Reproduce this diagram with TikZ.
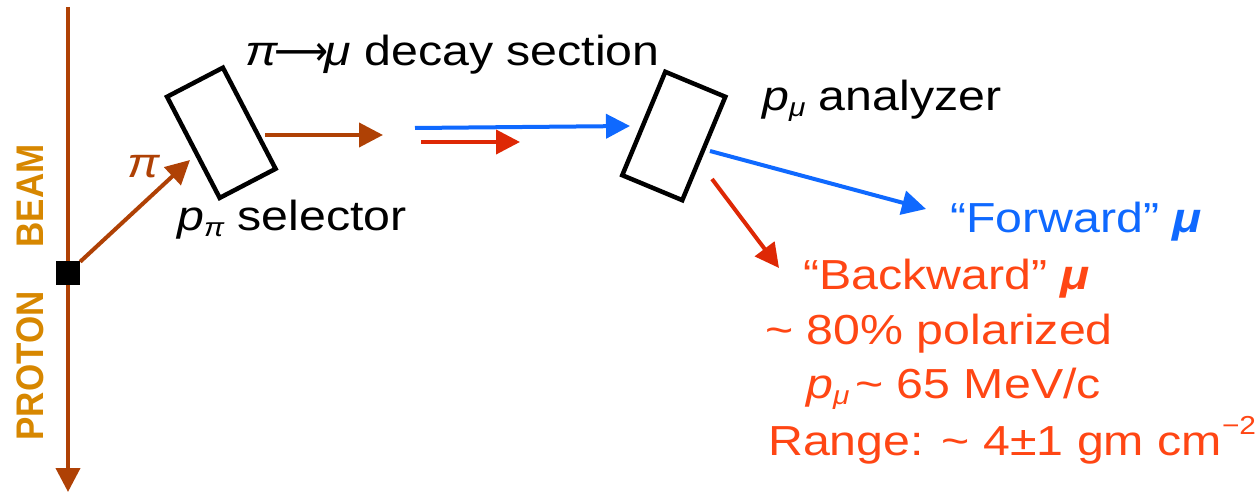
\documentclass[tikz,border=0pt]{standalone}
\usepackage{graphicx}
\usepackage{fontspec}
\setmainfont{Liberation Sans}
\newfontfamily\dvfont{DejaVu Sans}
\usetikzlibrary{arrows.meta}
\definecolor{brn}{RGB}{175,65,5}
\definecolor{org}{RGB}{215,135,0}
\definecolor{blu}{RGB}{15,105,255}
\definecolor{redarr}{RGB}{222,40,5}
\definecolor{redt}{RGB}{255,70,20}
\newcommand\hs[1]{\scalebox{1.15}[1]{#1}}
\newcommand\subsc[1]{\raisebox{-6pt}{\fontsize{26}{26}\selectfont\itshape #1}}
\tikzset{
  txt/.style={inner sep=0pt, anchor=base west, font=\fontsize{42}{48}\selectfont},
  vlab/.style={inner sep=0pt, rotate=90, text=org, font=\fontsize{35}{35}\selectfont\bfseries},
  arr/.style={line width=4pt, -{Triangle[length=24pt,width=24pt]}},
  devbox/.style={draw=black, line width=4.5pt, fill=none, inner sep=0pt},
}
\begin{document}
\begin{tikzpicture}[x=1pt,y=-1pt]
\useasboundingbox (0,0) rectangle (1259,492);
% proton beam
\coordinate (btop) at (68,7);
\coordinate (bbot) at (68,492);
\draw[arr, brn] (btop) -- (bbot);
\node[fill=black, minimum size=24pt, inner sep=0pt] (tgt) at (68,273) {};
\node[vlab] (beam) at (30,196) {\scalebox{1}[1.1]{BEAM}};
\node[vlab] (proton) at (30,366) {\scalebox{1}[1.1]{PROTON}};
% devices
\node[devbox, minimum width=63pt, minimum height=114pt, rotate=27.5] (sel) at (221.3,132.8) {};
\node[devbox, minimum width=65pt, minimum height=112pt, rotate=-22.6] (ana) at (673.8,136) {};
% arrows
\coordinate (pitip) at (190,160);
\draw[arr, brn] (tgt) -- (pitip);
\coordinate (sels) at (265,135);
\coordinate (sele) at (383,135);
\draw[arr, brn] (sels) -- (sele);
\coordinate (bis) at (415,128);
\coordinate (bie) at (630,126);
\draw[arr, blu] (bis) -- (bie);
\coordinate (ris) at (421,142);
\coordinate (rie) at (520,142);
\draw[arr, redarr] (ris) -- (rie);
\coordinate (fs) at (710,151);
\coordinate (fe) at (926,209);
\draw[arr, blu] (fs) -- (fe);
\coordinate (bs) at (712,179);
\coordinate (be) at (779,268);
\draw[arr, redarr] (bs) -- (be);
% labels
\node[txt] (dec) at (245,66) {\hs{\textit{π}\hspace{-0.08em}{\dvfont\scalebox{0.78}[1]{⟶}}\hspace{-0.08em}\textit{μ} decay section}};
\node[txt] (anl) at (762,111) {\hs{\textit{p}\subsc{μ} analyzer}};
\node[txt] (sell) at (177,230) {\hs{\textit{p}\subsc{π} selector}};
\node[txt, text=brn] (pil) at (127,178) {\hs{\textit{π}}};
\node[txt, text=blu] (fwd) at (950,233) {\hs{“Forward” \textbf{\textit{μ}}}};
\node[txt, text=redt] (bwd) at (803,289) {\hs{“Backward” \textbf{\textit{μ}}}};
\node[txt, text=redt] (pol) at (765,344) {\hs{\textasciitilde{} 80\% polarized}};
\node[txt, text=redt] (mom) at (806,398) {\hs{\textit{p}\subsc{μ}\hspace{0.12em}\textasciitilde{} 65 MeV/c}};
\node[txt, text=redt] (rng) at (768,455) {\hs{Range: \textasciitilde{} 4±1 gm cm\raisebox{0.5em}{\fontsize{26}{26}\selectfont −2}}};
\end{tikzpicture}
\end{document}
